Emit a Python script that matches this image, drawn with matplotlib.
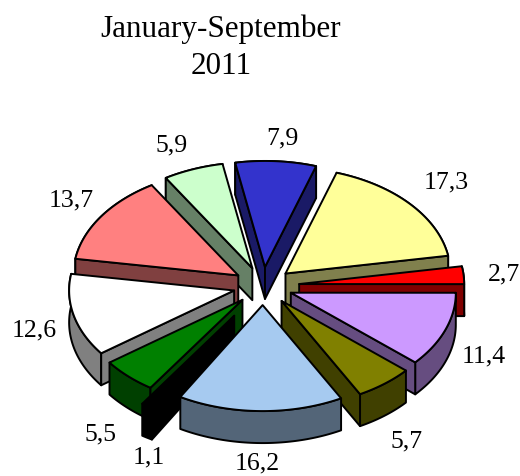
import numpy as np
import matplotlib
matplotlib.use("Agg")
import matplotlib.pyplot as plt
from matplotlib.patches import Polygon

plt.rcParams['font.family'] = ['Liberation Serif', 'DejaVu Serif']

labels = ["7,9", "17,3", "2,7", "11,4", "5,7", "16,2", "1,1", "5,5", "12,6", "13,7", "5,9"]
values = [7.9, 17.3, 2.7, 11.4, 5.7, 16.2, 1.1, 5.5, 12.6, 13.7, 5.9]
top_colors = ["#3333CC", "#FFFF99", "#FF0000", "#CC99FF", "#808000", "#A6CAF0",
              "#000000", "#008000", "#FFFFFF", "#FF8080", "#CCFFCC"]
title_lines = ["January-September", "2011"]

W, H = 520, 477
fig = plt.figure(figsize=(W / 100, H / 100), dpi=100)
ax = fig.add_axes([0, 0, 1, 1])
ax.set_xlim(0, W)
ax.set_ylim(H, 0)
ax.axis("off")

cx, cy = 263, 287
rx, ry = 165, 106
depth = 32
start = -10.4  # degrees clockwise from 12 o'clock
explode = [0.18, 0.18, 0.22, 0.18, 0.18, 0.18, 0.33, 0.18, 0.18, 0.18, 0.18]
draw_order = [0, 10, 1, 9, 2, 8, 3, 4, 7, 6, 5]
LW = 1.4


def side_color(c):
    if c == "#000000":
        return c
    return tuple(np.array(matplotlib.colors.to_rgb(c)) * 0.5)


def cross(u, v):
    return u[0] * v[1] - u[1] * v[0]


fracs = np.array(values) / sum(values)
edges = start + np.concatenate([[0], np.cumsum(fracs)]) * 360


def pt(a, r=1.0):
    t = np.radians(a)
    return np.array([r * rx * np.sin(t), -r * ry * np.cos(t)])


for i in draw_order:
    a0, a1 = edges[i], edges[i + 1]
    mid = (a0 + a1) / 2
    col = top_colors[i]
    side = side_color(col)
    c = np.array([cx, cy]) + pt(mid, explode[i])
    rim = np.array([c + pt(a) for a in np.linspace(a0, a1, 60)])
    d = np.array([0, depth])
    inner = pt(mid, 0.5)
    ax.add_patch(Polygon(np.vstack([rim, (rim + d)[::-1]]), closed=True, fc=side, ec="black", lw=LW, joinstyle="round"))
    for p in (rim[0], rim[-1]):
        if cross(p - c, d) * cross(p - c, inner) < 0:  # wall faces the viewer
            ax.add_patch(Polygon([c, p, p + d, c + d], closed=True, fc=side, ec="black", lw=LW, joinstyle="round"))
    ax.add_patch(Polygon(np.vstack([[c], rim]), closed=True, fc=col, ec="black", lw=LW, joinstyle="round"))

label_pos = [(282, 138), (446, 182), (504, 274), (484, 356), (407, 441), (257, 463),
             (149, 457), (101, 434), (34, 330), (71, 200), (172, 145)]
for s, (x, y) in zip(labels, label_pos):
    ax.text(x, y, s, ha="center", va="center", fontsize=18.5, color="black")

ax.text(221, 29, title_lines[0], ha="center", va="center", fontsize=22.4, color="black")
ax.text(221, 67, title_lines[1], ha="center", va="center", fontsize=22.4, color="black")

fig.savefig("out.png", dpi=100, facecolor="white")
